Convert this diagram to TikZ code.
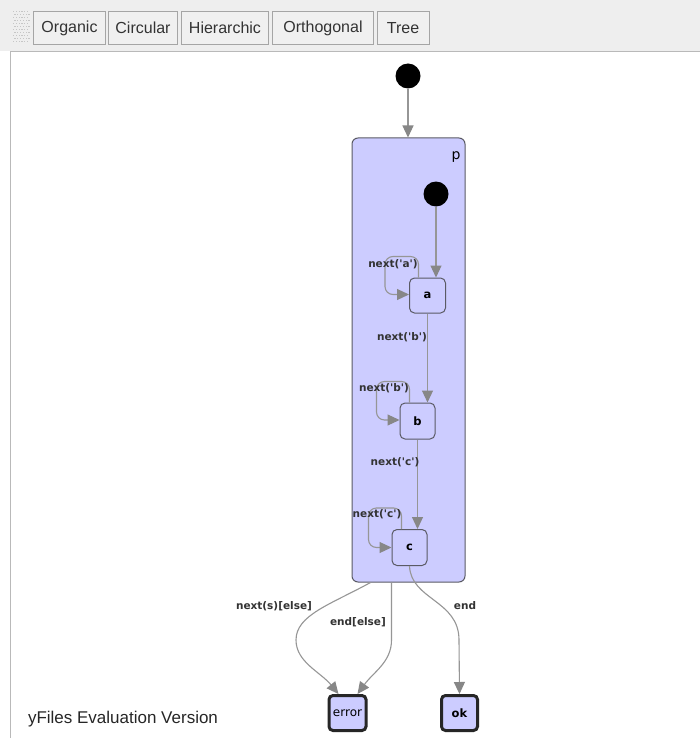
\documentclass[tikz,border=0pt]{standalone}
\usepackage{fontspec}
\setmainfont{Liberation Sans}
\newfontfamily\dv{DejaVu Sans}
\usetikzlibrary{arrows.meta}
\definecolor{statefill}{RGB}{204,204,255}
\definecolor{edgecol}{RGB}{150,150,150}
\definecolor{tipcol}{RGB}{135,135,135}
\definecolor{bordercol}{RGB}{90,90,100}
\definecolor{barbg}{RGB}{238,238,238}
\definecolor{btnfill}{RGB}{240,240,240}
\definecolor{btnline}{RGB}{165,165,165}
\tikzset{
  btn/.style={rectangle, draw=btnline, fill=btnfill, minimum height=33pt, inner sep=0pt,
    font=\fontsize{16}{18}\selectfont, text=black!80},
  statebox/.style={rectangle, rounded corners=5pt, draw=bordercol, fill=statefill, line width=1pt,
    inner sep=0pt, font=\dv\bfseries\fontsize{11.5}{13}\selectfont},
  finalbox/.style={statebox, draw=black!85, line width=3pt, rounded corners=4pt},
  initdot/.style={circle, fill=black, minimum size=25pt, inner sep=0pt},
  edge/.style={draw=edgecol, line width=1.1pt, -{Triangle[length=12pt,width=11pt,fill=tipcol,color=tipcol]}},
  elabel/.style={inner sep=0pt, font=\dv\bfseries\fontsize{10.5}{12}\selectfont, text=black!80},
}
\begin{document}
\begin{tikzpicture}[x=1pt,y=-1pt]
\useasboundingbox (0,0) rectangle (700,738);
% toolbar
\fill[barbg] (0,0) rectangle (700,51);
\foreach \i in {0,...,5}{
  \foreach \j in {0,...,10}{
    \fill[gray!45] ({13+\i*2.8+mod(\j,2)*1.4},{11+\j*3}) rectangle ++(1.1,1.1);
  }
}
\node[btn, minimum width=72pt] (b1) at (69.5,28) {Organic};
\node[btn, minimum width=69pt] (b2) at (143,28) {Circular};
\node[btn, minimum width=87pt] (b3) at (225,28) {Hierarchic};
\node[btn, minimum width=101pt] (b4) at (323,28) {Orthogonal};
\node[btn, minimum width=52pt] (b5) at (403,28) {Tree};
% panel
\fill[white] (10,52) rectangle (700,738);
\draw[gray!55, line width=1pt] (10,738) -- (10,52) -- (700,52);
% container
\node[rectangle, rounded corners=6pt, draw=bordercol, fill=statefill, line width=1pt,
  minimum width=113pt, minimum height=444pt] (p) at (408.5,360) {};
\node[font=\dv\fontsize{14}{16}\selectfont, inner sep=0pt] (plabel) at (456,157) {p};
% initial states
\node[initdot] (i0) at (408,76) {};
\node[initdot] (i1) at (436,194) {};
% states
\node[statebox, minimum width=36pt, minimum height=35pt] (a) at (427.5,295.5) {a};
\node[statebox, minimum width=35pt, minimum height=36pt] (b) at (417.5,421) {b};
\node[statebox, minimum width=35pt, minimum height=36pt] (c) at (409.5,547.5) {c};
\node[finalbox, minimum width=37pt, minimum height=35pt, font=\dv\fontsize{12}{14}\selectfont] (error) at (347.5,713) {error};
\node[finalbox, minimum width=36pt, minimum height=35pt] (ok) at (459.5,713) {ok};
% edges
\draw[edge] (i0) -- (i0 |- p.north);
\draw[edge] (i1) -- (i1 |- a.north);
\draw[edge] (a.south) -- (a.south |- b.north);
\draw[edge] (b.south) -- (b.south |- c.north);
\draw[edge, rounded corners=8pt] ([xshift=-9pt]a.north) -- ++(0,-21) -| ([xshift=-24pt,yshift=1pt]a.west) -- ([yshift=1pt]a.west);
\draw[edge, rounded corners=8pt] ([xshift=-8pt]b.north) -- ++(0,-21) -| ([xshift=-23pt,yshift=1pt]b.west) -- ([yshift=1pt]b.west);
\draw[edge, rounded corners=8pt] ([xshift=-8pt]c.north) -- ++(0,-21) -| ([xshift=-23pt]c.west) -- (c.west);
\draw[edge] ([xshift=-38pt]p.south) .. controls +(-40,22) and +(0,-25) .. (296,640)
  .. controls +(0,22) and +(-18,-22) .. ([xshift=-9pt]error.north);
\draw[edge] ([xshift=-17pt]p.south) -- (391.5,640)
  .. controls +(0,22) and +(16,-22) .. ([xshift=10pt]error.north);
\draw[edge] (c.south) .. controls (411,600) and (459,600) .. (459,640) -- (ok.north);
% labels
\node[elabel] (la) at (393,264) {next('a')};
\node[elabel] (lb1) at (402,337) {next('b')};
\node[elabel] (lb2) at (384,388) {next('b')};
\node[elabel] (lc1) at (395,462) {next('c')};
\node[elabel] (lc2) at (377,514) {next('c')};
\node[elabel] (ls) at (274,606) {next(s)[else]};
\node[elabel] (le) at (358,622) {end[else]};
\node[elabel] (lend) at (465,606) {end};
\node[font=\fontsize{17}{20}\selectfont, text=black!85, inner sep=0pt] (yf) at (123,719) {yFiles Evaluation Version};
\end{tikzpicture}
\end{document}
